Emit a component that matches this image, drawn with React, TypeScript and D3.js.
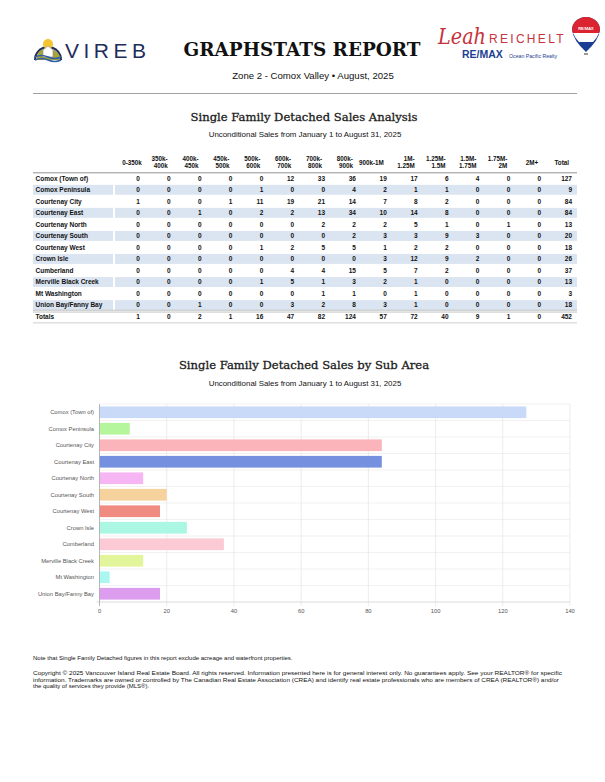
import * as d3 from "d3";

const subAreas = [
  "Comox (Town of)",
  "Comox Peninsula",
  "Courtenay City",
  "Courtenay East",
  "Courtenay North",
  "Courtenay South",
  "Courtenay West",
  "Crown Isle",
  "Cumberland",
  "Merville Black Creek",
  "Mt Washington",
  "Union Bay/Fanny Bay",
];

const columnHeaders = [
  ["0-350k"],
  ["350k-", "400k"],
  ["400k-", "450k"],
  ["450k-", "500k"],
  ["500k-", "600k"],
  ["600k-", "700k"],
  ["700k-", "800k"],
  ["800k-", "900k"],
  ["900k-1M"],
  ["1M-", "1.25M"],
  ["1.25M-", "1.5M"],
  ["1.5M-", "1.75M"],
  ["1.75M-", "2M"],
  ["2M+"],
  ["Total"],
];

// one row per sub area, last value is the row total
const salesRows = [
  [0, 0, 0, 0, 0, 12, 33, 36, 19, 17, 6, 4, 0, 0, 127],
  [0, 0, 0, 0, 1, 0, 0, 4, 2, 1, 1, 0, 0, 0, 9],
  [1, 0, 0, 1, 11, 19, 21, 14, 7, 8, 2, 0, 0, 0, 84],
  [0, 0, 1, 0, 2, 2, 13, 34, 10, 14, 8, 0, 0, 0, 84],
  [0, 0, 0, 0, 0, 0, 2, 2, 2, 5, 1, 0, 1, 0, 13],
  [0, 0, 0, 0, 0, 0, 0, 2, 3, 3, 9, 3, 0, 0, 20],
  [0, 0, 0, 0, 1, 2, 5, 5, 1, 2, 2, 0, 0, 0, 18],
  [0, 0, 0, 0, 0, 0, 0, 0, 3, 12, 9, 2, 0, 0, 26],
  [0, 0, 0, 0, 0, 4, 4, 15, 5, 7, 2, 0, 0, 0, 37],
  [0, 0, 0, 0, 1, 5, 1, 3, 2, 1, 0, 0, 0, 0, 13],
  [0, 0, 0, 0, 0, 0, 1, 1, 0, 1, 0, 0, 0, 0, 3],
  [0, 0, 1, 0, 0, 3, 2, 8, 3, 1, 0, 0, 0, 0, 18],
];

const totalsRow = [1, 0, 2, 1, 16, 47, 82, 124, 57, 72, 40, 9, 1, 0, 452];

const areaTotals = [127, 9, 84, 84, 13, 20, 18, 26, 37, 13, 3, 18];

const barColors = [
  "#c9d9f8",
  "#b5f59b",
  "#fbb5ba",
  "#7690e0",
  "#f6b6f4",
  "#f6d29d",
  "#f08b82",
  "#abf7e4",
  "#fbcad5",
  "#e3f59b",
  "#aaf7f2",
  "#dc9def",
];

const xTicks = [0, 20, 40, 60, 80, 100, 120, 140];

const sans = "'Liberation Sans', Arial, sans-serif";
const slab = "'DejaVu Serif', serif";

const VirebLogo = () => (
  <g>
    <path d="M34,60 A14,14 0 0 1 62,60 Z" fill="#1f2d5c" />
    <path d="M36,60 A12,12 0 0 1 60,60 Z" fill="#f3f0d8" />
    <circle cx={48} cy={44} r={5} fill="#f2c531" />
    <path d="M36,60 Q38,49 46,48 Q54,47 60,56 L60,60 Z" fill="#a8a23a" />
    <path d="M43,57 L43,50 L48,46 L53,50 L53,57 Z" fill="#ffffff" stroke="#8b8b8b" strokeWidth={0.6} />
    <path d="M35,57 Q41,54 48,57 T61,57" fill="none" stroke="#2f5fa8" strokeWidth={1.4} />
    <path d="M35,60 Q41,57 48,60 T61,60" fill="none" stroke="#2f5fa8" strokeWidth={1.4} />
    <text x={65} y={57.5} fontFamily={sans} fontSize={21} letterSpacing={4.5} fill="#1f2d5c">
      VIREB
    </text>
  </g>
);

const AgentLogo = () => (
  <g>
    <text
      x={438}
      y={44}
      fontFamily={slab}
      fontStyle="italic"
      fontSize={22}
      textLength={48}
      lengthAdjust="spacingAndGlyphs"
      fill="#c5333c"
    >
      Leah
    </text>
    <text x={489} y={43} fontFamily={sans} fontSize={12} letterSpacing={2.3} fill="#c5333c">
      REICHELT
    </text>
    <text x={462} y={58} fontFamily={sans} fontWeight="bold" fontSize={10.5} fill="#1c3f94">
      RE/MAX
    </text>
    <text x={509} y={57.5} fontFamily={sans} fontSize={5.2} fill="#1c3f94">
      Ocean Pacific Realty
    </text>
    <g>
      <path d="M572,30 A14,13 0 0 1 600,30 Q599,40 586,52 Q573,40 572,30 Z" fill="#1c3f94" />
      <path d="M572,30 A14,13 0 0 1 600,30 L599,33 L573,33 Z" fill="#dc2430" />
      <path d="M573,33 L599,33 Q597,38 593,42 L579,42 Q575,38 573,33 Z" fill="#ffffff" />
      <text x={586} y={30} textAnchor="middle" fontFamily={sans} fontWeight="bold" fontSize={4} fill="#ffffff">
        RE/MAX
      </text>
      <rect x={584} y={53} width={4} height={2} fill="#999" />
    </g>
  </g>
);

const SalesTable = () => {
  const labelX = 35.5;
  const colScale = d3.scaleBand<number>().domain(d3.range(columnHeaders.length)).range([113, 576]);
  const rowScale = d3
    .scaleBand<number>()
    .domain(d3.range(subAreas.length + 1))
    .range([172.5, 172.5 + 11.53 * (subAreas.length + 1)]);
  const rh = rowScale.bandwidth();
  const right = (i: number) => (colScale(i) ?? 0) + colScale.bandwidth() - 4;
  const totalsY = rowScale(subAreas.length) ?? 0;

  return (
    <g fontFamily={sans} fontWeight="bold" fontSize={6.5} fill="#111">
      {columnHeaders.map((lines, i) =>
        lines.map((ln, j) => (
          <text
            key={`h${i}-${j}`}
            x={right(i) + (i === 0 ? 2 : -3)}
            y={lines.length === 1 ? 164.5 : 160.5 + j * 7}
            textAnchor="end"
            fontSize={6.3}
          >
            {ln}
          </text>
        )),
      )}
      <line x1={33} x2={577} y1={172.8} y2={172.8} stroke="#777" strokeWidth={0.8} />
      {subAreas.map((name, r) => {
        const y = rowScale(r) ?? 0;
        return (
          <g key={name}>
            {r % 2 === 1 && (
              <>
                <rect x={33} y={y + 0.8} width={80} height={rh - 1.6} fill="#dbe5f1" />
                <rect x={115} y={y + 0.8} width={462} height={rh - 1.6} fill="#dbe5f1" />
              </>
            )}
            <text x={labelX} y={y + rh / 2 + 2.3}>
              {name}
            </text>
            {salesRows[r].map((v, c) => (
              <text key={c} x={right(c)} y={y + rh / 2 + 2.3} textAnchor="end">
                {v}
              </text>
            ))}
          </g>
        );
      })}
      <line x1={33} x2={577} y1={totalsY - 0.6} y2={totalsY - 0.6} stroke="#aaa" strokeWidth={0.7} />
      <line x1={33} x2={577} y1={totalsY + 1.2} y2={totalsY + 1.2} stroke="#aaa" strokeWidth={0.7} />
      <text x={labelX} y={totalsY + rh / 2 + 2.5}>
        Totals
      </text>
      {totalsRow.map((v, c) => (
        <text key={c} x={right(c)} y={totalsY + rh / 2 + 2.5} textAnchor="end">
          {v}
        </text>
      ))}
      <line x1={33} x2={577} y1={totalsY + rh + 0.5} y2={totalsY + rh + 0.5} stroke="#bbb" strokeWidth={0.7} />
    </g>
  );
};

const BarChart = () => {
  const x = d3.scaleLinear().domain([0, 140]).range([99.5, 570]);
  const y = d3.scaleBand<string>().domain(subAreas).range([404, 602]).paddingInner(0.29).paddingOuter(0.145);
  const step = y.step();

  return (
    <g fontFamily={sans} fontSize={5.8} fill="#555">
      {subAreas.map((_, i) => (
        <line
          key={`hg${i}`}
          x1={x(0)}
          x2={x(140)}
          y1={404 + step * i}
          y2={404 + step * i}
          stroke="#ebebeb"
          strokeWidth={0.7}
        />
      ))}
      {xTicks.map((t) => (
        <line key={`vg${t}`} x1={x(t)} x2={x(t)} y1={404} y2={606} stroke="#e4e4e4" strokeWidth={0.7} />
      ))}
      {subAreas.map((name, i) => (
        <rect
          key={name}
          x={x(0)}
          y={y(name)}
          width={x(areaTotals[i]) - x(0)}
          height={y.bandwidth()}
          fill={barColors[i]}
        />
      ))}
      <line x1={x(0) - 3} x2={x(140)} y1={602} y2={602} stroke="#d2d2d2" strokeWidth={0.8} />
      <line x1={x(0)} x2={x(0)} y1={404} y2={606} stroke="#a8a8a8" strokeWidth={0.8} />
      {subAreas.map((name) => (
        <text key={name} x={94} y={(y(name) ?? 0) + y.bandwidth() / 2 + 2} textAnchor="end">
          {name}
        </text>
      ))}
      {xTicks.map((t) => (
        <text key={t} x={x(t)} y={613} textAnchor="middle">
          {t}
        </text>
      ))}
    </g>
  );
};

export default function App() {
  return (
    <svg
      width={605}
      height={782}
      viewBox="0 0 605 782"
      style={{ position: "absolute", left: 0, top: 0, background: "#fff" }}
    >
      <rect width={605} height={782} fill="#fff" />
      <VirebLogo />
      <text x={302} y={56} textAnchor="middle" fontFamily={slab} fontWeight="bold" fontSize={18.4} fill="#111">
        GRAPHSTATS REPORT
      </text>
      <AgentLogo />
      <text x={313} y={78.5} textAnchor="middle" fontFamily={sans} fontSize={9.6} fill="#111">
        Zone 2 - Comox Valley • August, 2025
      </text>
      <line x1={33} x2={577} y1={93.5} y2={93.5} stroke="#8a8a8a" strokeWidth={0.8} />

      <text x={304} y={121} textAnchor="middle" fontFamily={slab} fontSize={11.6} fill="#1a1a1a" stroke="#1a1a1a" strokeWidth={0.3}>
        Single Family Detached Sales Analysis
      </text>
      <text x={305} y={137} textAnchor="middle" fontFamily={sans} fontSize={7.9} fill="#111">
        Unconditional Sales from January 1 to August 31, 2025
      </text>
      <SalesTable />

      <text x={304} y={369} textAnchor="middle" fontFamily={slab} fontSize={11.6} fill="#1a1a1a" stroke="#1a1a1a" strokeWidth={0.3}>
        Single Family Detached Sales by Sub Area
      </text>
      <text x={305} y={386} textAnchor="middle" fontFamily={sans} fontSize={7.9} fill="#111">
        Unconditional Sales from January 1 to August 31, 2025
      </text>
      <BarChart />

      <g fontFamily={sans} fontSize={6} fill="#111">
        <text x={33} y={660}>
          Note that Single Family Detached figures in this report exclude acreage and waterfront properties.
        </text>
        <text x={33} y={675} textLength={529} lengthAdjust="spacingAndGlyphs">
          Copyright © 2025 Vancouver Island Real Estate Board. All rights reserved. Information presented here is for general interest only. No guarantees apply. See your REALTOR® for specific
        </text>
        <text x={33} y={681.5} textLength={526} lengthAdjust="spacingAndGlyphs">
          information. Trademarks are owned or controlled by The Canadian Real Estate Association (CREA) and identify real estate professionals who are members of CREA (REALTOR®) and/or
        </text>
        <text x={33} y={688}>
          the quality of services they provide (MLS®).
        </text>
      </g>
    </svg>
  );
}
